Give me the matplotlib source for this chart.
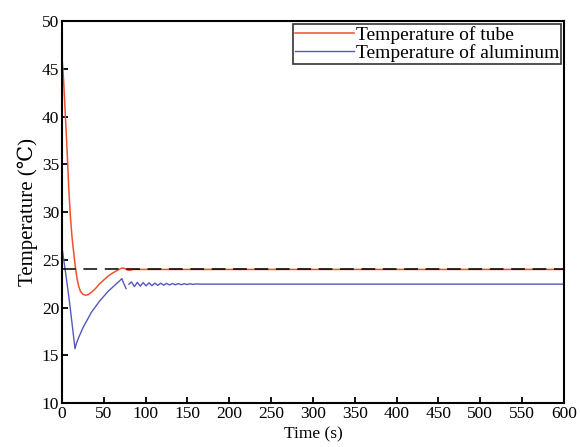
import numpy as np
import matplotlib
matplotlib.use('Agg')
import matplotlib.pyplot as plt

plt.rcParams['font.family'] = ['Liberation Serif', 'DejaVu Serif']

# tube temperature
t_tube = [0, 1, 2, 4, 6, 8, 10, 12, 14, 16, 18, 20, 22, 25, 28, 31, 35, 40, 45,
          50, 55, 60, 65, 69, 72, 75, 78, 81, 85, 600]
T_tube = [46, 45, 43.5, 40, 36.5, 32.5, 29.5, 27.3, 25.7, 24.2, 23.0, 22.2, 21.7,
          21.4, 21.3, 21.35, 21.6, 22.0, 22.5, 22.9, 23.3, 23.6, 23.85, 24.05,
          24.15, 24.1, 23.95, 23.9, 24.0, 24.0]

# aluminum temperature (nan = small gap in the curve)
t_alu = [0, 2, 4, 6, 8, 10, 12, 14, 15.5, 17, 20, 25, 30, 35, 40, 45, 50, 55, 60,
         65, 70, 71.5, 73, 75, 76.5, 78, 80, 83, 86.5, 90, 93.5, 97, 100.5, 104,
         107.5, 111, 114.5, 118, 121.5, 125, 128.5, 132, 135.5, 139, 142.5, 146,
         149.5, 153, 156.5, 160, 166, 600]
T_alu = [26.3, 25.0, 23.8, 22.5, 21.2, 19.8, 18.3, 16.8, 15.7, 16.2, 16.9, 17.9, 18.7,
         19.5, 20.1, 20.7, 21.2, 21.7, 22.1, 22.5, 22.9, 23.05, 22.7, 22.3, 22.0,
         np.nan, 22.45, 22.7, 22.2, 22.65, 22.25, 22.62, 22.28, 22.6, 22.3, 22.57,
         22.33, 22.56, 22.35, 22.54, 22.37, 22.53, 22.39, 22.52, 22.4, 22.51,
         22.42, 22.5, 22.43, 22.48, 22.46, 22.46]

setpoint = 24

fig = plt.figure(figsize=(5.8, 4.47), dpi=100)
ax = fig.add_axes([0.107, 0.098, 0.865, 0.855])

ax.plot(t_tube, T_tube, color='#f0502d', lw=1.1, label='Temperature of tube')
ax.plot(t_alu, T_alu, color='#5458c0', lw=1.0, label='Temperature of aluminum')
ax.axhline(setpoint, color='black', lw=1.1, dashes=(9, 5))

ax.set_xlim(0, 600)
ax.set_ylim(10, 50)
ax.set_xticks(np.arange(0, 601, 50))
ax.set_yticks(np.arange(10, 51, 5))
ax.tick_params(direction='in', length=4, width=1.3, labelsize=12.5,
               top=False, right=False, pad=2)
for s in ax.spines.values():
    s.set_linewidth(1.5)

ax.set_xlabel('Time (s)', fontsize=12.5, labelpad=3)
ax.set_ylabel('Temperature (\u2103)', fontsize=15, labelpad=3)

leg = ax.legend(loc='upper right', fontsize=14, frameon=True, fancybox=False,
                edgecolor='black', borderaxespad=0.15, handlelength=3.0,
                handletextpad=0.1, labelspacing=0.0, borderpad=0.1)
leg.get_frame().set_linewidth(1.2)

fig.savefig('out.png', dpi=100)
